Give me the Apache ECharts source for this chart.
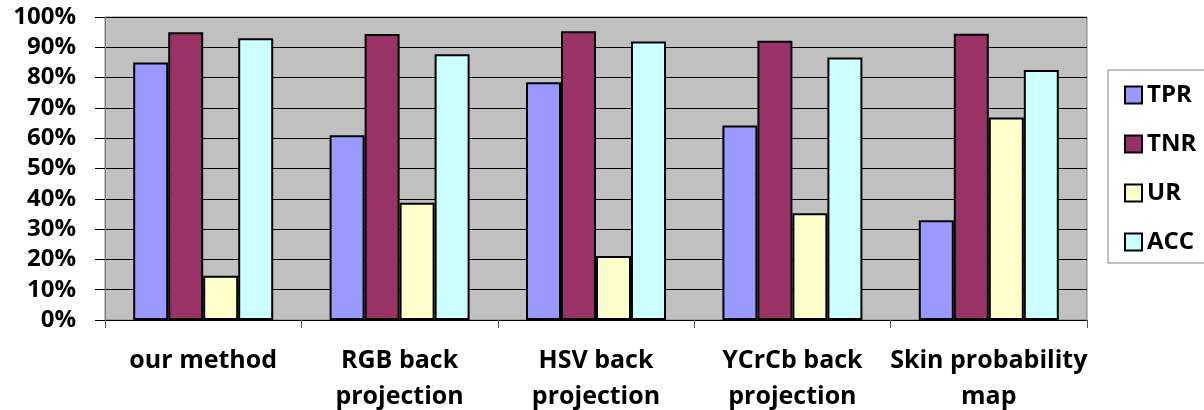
<!DOCTYPE html>
<html>
<head>
<meta charset="utf-8">
<script src="https://cdn.jsdelivr.net/npm/echarts@6/dist/echarts.min.js"></script>
<style>
html,body{margin:0;padding:0;background:#fff;}
#chart{width:1204px;height:410px;}
</style>
</head>
<body>
<div id="chart"></div>
<script>
const categories = ["our method", "RGB back\nprojection", "HSV back\nprojection", "YCrCb back\nprojection", "Skin probability\nmap"];
const seriesNames = ["TPR", "TNR", "UR", "ACC"];
const tprValues = [85.0, 61.0, 78.5, 64.2, 32.9];
const tnrValues = [95.0, 94.4, 95.3, 92.2, 94.5];
const urValues  = [14.6, 38.7, 21.1, 35.2, 66.8];
const accValues = [93.0, 87.7, 91.9, 86.6, 82.5];
const colors = ["#9999FF", "#993366", "#FFFFCC", "#CCFFFF"];
const valuesList = [tprValues, tnrValues, urValues, accValues];

const FONT = "Open Sans";
const chart = echarts.init(document.getElementById('chart'), null, {renderer: 'canvas'});
const option = {
  animation: false,
  backgroundColor: '#ffffff',
  grid: {
    left: 105, right: 117, top: 17, bottom: 90,
    show: true, backgroundColor: '#C0C0C0', borderColor: '#808080', borderWidth: 1,
    containLabel: false,
    outerBoundsMode: 'none'
  },
  legend: {
    orient: 'vertical',
    left: 1108, top: 70,
    padding: [13, 18, 9, 16],
    itemGap: 25,
    itemWidth: 17, itemHeight: 17,
    itemStyle: {borderWidth: 2, borderColor: '#000'},
    icon: 'rect',
    borderColor: '#808080', borderWidth: 1,
    backgroundColor: '#ffffff',
    textStyle: {fontFamily: FONT, fontWeight: 'bold', fontSize: 24, color: '#000'},
    data: seriesNames
  },
  xAxis: {
    type: 'category',
    data: categories,
    boundaryGap: true,
    axisLine: {show: true, lineStyle: {color: '#000', width: 1}},
    axisTick: {show: true, length: 8, lineStyle: {color: '#555'}},
    axisLabel: {
      fontFamily: FONT, fontWeight: 'bold', fontSize: 25, color: '#000',
      lineHeight: 36, margin: 23, interval: 0
    },
    splitLine: {show: false}
  },
  yAxis: {
    type: 'value',
    min: 0, max: 100, interval: 10,
    axisLine: {show: true, lineStyle: {color: '#808080', width: 1}},
    axisTick: {show: true, length: 10, lineStyle: {color: '#000'}},
    axisLabel: {
      formatter: '{value}%', fontFamily: FONT, fontWeight: 'bold', fontSize: 24, color: '#000', margin: 29
    },
    splitLine: {show: true, lineStyle: {color: '#000', width: 1}}
  },
  series: seriesNames.map((name, i) => ({
    name: name,
    type: 'bar',
    data: valuesList[i],
    barWidth: 35,
    barGap: '0%',
    itemStyle: {color: colors[i], borderColor: '#000', borderWidth: 2}
  }))
};
chart.setOption(option);
</script>
</body>
</html>
